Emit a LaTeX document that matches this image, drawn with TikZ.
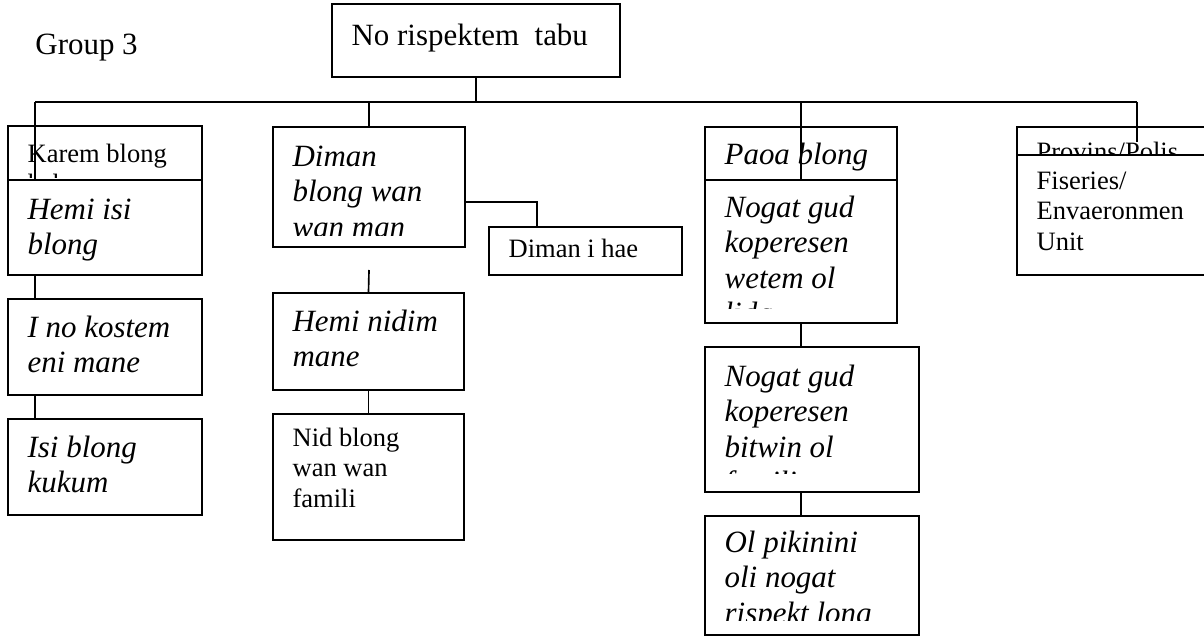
\documentclass[tikz,border=0pt]{standalone}
\usepackage{fontspec}
\setmainfont{Liberation Serif}
\usetikzlibrary{fit}
\newcommand{\smalltxt}{\fontsize{12}{13.8}\selectfont}
\newcommand{\bigtxt}{\fontsize{14}{16.1}\selectfont}
% box: name, corner, opposite corner, first baseline below top, lowest visible text line, contents
\newcommand{\orgbox}[6]{%
  \node[box, fit={(#2) (#3)}] (#1) {};
  \begin{scope}
    \clip (#1.north west) rectangle (#1.east |- 0,#5);
    \node[boxtext] at ([shift={(20,#4)}]#1.north west)
      {\parbox[t]{200pt}{\raggedright #6}};
  \end{scope}
}
\tikzset{
  box/.style={draw, fill=white, line width=0.75pt, inner sep=0pt},
  boxtext/.style={anchor=base west, inner sep=0pt},
  wire/.style={draw, line width=0.75pt}
}
\begin{document}
\begin{tikzpicture}[x=0.4525pt, y=-0.4525pt]
\useasboundingbox (0,0) rectangle (1204,636);

\node[anchor=base west, inner sep=0pt, font=\bigtxt] (grp) at (35,55) {Group 3};

\orgbox{top}{332,4}{620,77}{42}{77}{\bigtxt No rispektem\ \ tabu}

% left column
\orgbox{karem}{8,126}{202,180}{37}{178}{\smalltxt Karem blong\\kakae}
\orgbox{hemi}{8,180}{202,275}{40}{275}{\bigtxt\itshape Hemi isi\\blong}
\orgbox{kostem}{8,299}{202,395}{39}{395}{\bigtxt\itshape I no kostem\\eni mane}
\orgbox{kukum}{8,419}{202,515}{39}{515}{\bigtxt\itshape Isi blong\\kukum}

% second column
\orgbox{diman}{273,127}{465,247}{40}{236}{\bigtxt\itshape Diman\\blong wan\\wan man}
\orgbox{hae}{489,227}{682,275}{31}{275}{\smalltxt Diman i hae}
\orgbox{nidim}{273,293}{464,390}{39}{390}{\bigtxt\itshape Hemi nidim\\mane}
\orgbox{nid}{273,414}{464,540}{33}{540}{\smalltxt Nid blong\\wan wan\\famili}

% third column
\orgbox{paoa}{705,127}{897,180}{38}{172}{\bigtxt\itshape Paoa blong}
\orgbox{lida}{705,180}{897,323}{38}{309}{\bigtxt\itshape Nogat gud\\koperesen\\wetem ol\\lida}
\orgbox{famili}{705,347}{919,492}{40}{473}{\bigtxt\itshape Nogat gud\\koperesen\\bitwin ol\\famili}
\orgbox{pikinini}{705,516}{919,635}{37}{620}{\bigtxt\itshape Ol pikinini\\oli nogat\\rispekt long}

% right column
\orgbox{provins}{1017,127}{1215,155}{34}{154}{\smalltxt Provins/Polis}
\orgbox{fiseries}{1017,155}{1215,275}{35}{275}{\smalltxt Fiseries/\\Envaeronmen\\Unit}

% connectors
\coordinate (busL) at (35,102);
\coordinate (busR) at (1137,102);
\coordinate (provEnd) at (1137,142);
\coordinate (nidimIn) at (369,270);
\draw[wire] (top.south) -- (top.south |- busL);
\draw[wire] (busL) -- (busR);
\draw[wire] (busL) -- (busL |- hemi.north);
\draw[wire] (diman.north |- busL) -- (diman.north);
\draw[wire] (lida.north |- busL) -- (lida.north);
\draw[wire] (busR) -- (provEnd);
\draw[wire] (busL |- hemi.south) -- (busL |- kostem.north);
\draw[wire] (busL |- kostem.south) -- (busL |- kukum.north);
\draw[wire] (diman.east |- 0,202) -| (hae.north -| 537,0);
\draw[wire] (nidimIn) -- (nidim.north);
\draw[wire] (nidim.south) -- (nid.north);
\draw[wire] (lida.south) -- (lida.south |- famili.north);
\draw[wire] (lida.south |- famili.south) -- (lida.south |- pikinini.north);
\end{tikzpicture}
\end{document}
